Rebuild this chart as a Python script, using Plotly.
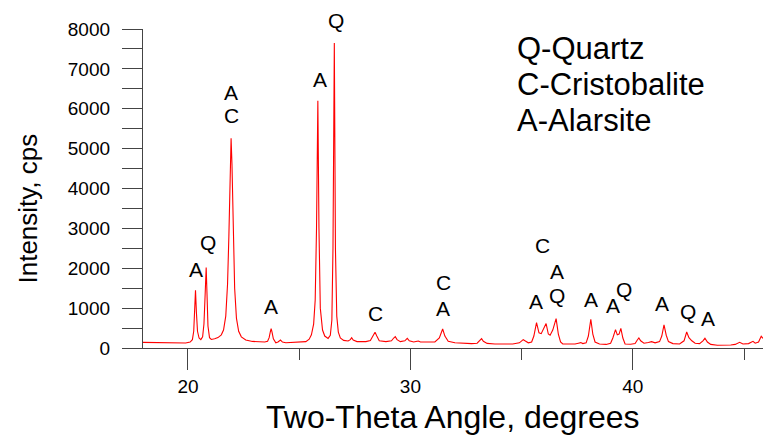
import plotly.graph_objects as go

# Diffractogram points (two-theta in degrees, intensity in cps)
two_theta = [
    17.98, 18.3, 18.7, 19.0, 19.3, 19.6, 19.9, 20.1,
    20.2, 20.26, 20.3, 20.34, 20.38, 20.43, 20.5, 20.58,
    20.66, 20.72, 20.77, 20.82, 20.86, 20.9, 20.97, 21.05,
    21.2, 21.35, 21.5,
    21.6, 21.7, 21.78, 21.84, 21.9, 21.94, 21.98, 22.04, 22.1, 22.18, 22.28, 22.4, 22.6, 22.9, 23.2, 23.45,
    23.58, 23.65, 23.7, 23.74, 23.78, 23.84, 23.95, 24.05, 24.16, 24.25, 24.4, 24.7, 25.0, 25.3,
    25.45, 25.55, 25.65, 25.72, 25.78, 25.84, 25.89, 25.95, 26.05, 26.15, 26.3,
    26.4, 26.47, 26.52, 26.58, 26.63, 26.69, 26.76, 26.85, 27.0, 27.2, 27.3, 27.36, 27.43, 27.6,
    28.0, 28.2, 28.33, 28.41, 28.49, 28.6, 28.9, 29.15, 29.25, 29.32, 29.4, 29.55, 29.75, 29.86,
    29.95, 30.15, 30.3, 30.36, 30.45, 30.8, 31.1, 31.3, 31.45, 31.55, 31.7, 32.0, 32.4, 32.6,
    32.75, 33.0, 33.12, 33.2, 33.28, 33.45, 33.8, 34.2, 34.6, 34.9, 35.0, 35.07, 35.15, 35.3,
    35.45, 35.55, 35.67, 35.78, 35.88, 36.0, 36.1, 36.2, 36.28, 36.4, 36.55, 36.65, 36.75, 36.85,
    37.1, 37.4, 37.55, 37.66, 37.75, 37.9, 38.0, 38.11, 38.2, 38.3, 38.5, 38.8, 39.0, 39.1,
    39.22, 39.3, 39.38, 39.46, 39.55, 39.65, 39.9, 40.1, 40.2, 40.27, 40.35, 40.5, 40.7, 40.84,
    41.0, 41.2, 41.3, 41.4, 41.5, 41.6, 41.8, 42.1, 42.3, 42.42, 42.52, 42.65, 42.8, 43.0,
    43.15, 43.24, 43.35, 43.5, 43.8, 44.1, 44.4, 44.6, 44.8, 44.95, 45.2, 45.4, 45.5, 45.65,
    45.77, 45.85,
]
intensity = [
    140, 135, 130, 125, 120, 118, 125, 150,
    210, 420, 900, 1450, 900, 420, 250, 210,
    280, 600, 1300, 2020, 1300, 550, 260, 215,
    230, 260, 330,
    450, 800, 1600, 2800, 4600, 5260, 4600, 2800, 1500, 750, 420, 280, 200, 165, 150, 150,
    170, 260, 400, 486, 400, 230, 130, 150, 200, 150, 130, 135, 140, 160,
    220, 330, 600, 1200, 3000, 6200, 3000, 1000, 450, 300, 240,
    320, 700, 2500, 7650, 2500, 800, 400, 250, 190, 175, 210, 260, 200, 160,
    160, 190, 300, 395, 300, 180, 160, 180, 250, 285, 210, 160, 180, 243,
    180, 150, 170, 176, 150, 140, 150, 250, 477, 300, 170, 130, 115, 125,
    110, 120, 200, 236, 170, 115, 100, 95, 100, 130, 180, 210, 180, 130,
    150, 300, 637, 380, 360, 500, 612, 350, 320, 450, 737, 350, 150, 100,
    95, 100, 120, 135, 110, 130, 300, 720, 350, 150, 100, 90, 120, 250,
    461, 330, 350, 494, 250, 100, 95, 110, 200, 252, 180, 120, 140, 160,
    130, 160, 300, 578, 320, 160, 110, 100, 180, 402, 260, 180, 120, 110,
    180, 243, 150, 90, 70, 65, 75, 90, 143, 100, 110, 168, 120, 150,
    294, 240,
]

# Phase labels placed over the peaks
label_text = ["A", "Q", "A", "C", "A", "A", "Q", "C", "C", "A",
              "C", "A", "Q", "A", "A", "A", "Q", "A", "Q", "A"]
label_x = [20.36, 20.9, 21.94, 21.94, 23.75, 25.93, 26.65, 28.42, 31.48, 31.48,
           35.92, 36.57, 36.6, 35.64, 38.11, 39.1, 39.62, 41.33, 42.48, 43.38]
label_y = [1968, 2636, 6400, 5841, 1029, 6745, 8225, 863, 1632, 989,
           2578, 1925, 1323, 1155, 1215, 1072, 1466, 1114, 904, 738]

key_lines = ["Q-Quartz", "C-Cristobalite", "A-Alarsite"]

x_title = "Two-Theta Angle, degrees"
y_title = "Intensity, cps"

x_range = [17.98, 45.85]
y_range = [0, 8000]

FONT = "Liberation Sans, Arial, sans-serif"
AX = "#444444"

L, R, T, B = 142.7, 0, 29, 92.3
W, H = 763, 440
pw, ph = W - L - R, H - T - B

fig = go.Figure()
fig.add_trace(go.Scatter(
    x=two_theta, y=intensity, mode="lines",
    line=dict(color="#ff0000", width=1.1),
    hoverinfo="skip", showlegend=False,
))

for t, x, y in zip(label_text, label_x, label_y):
    fig.add_annotation(x=x, y=(y - y_range[0]) / (y_range[1] - y_range[0]),
                       xref="x", yref="y domain", text=t, showarrow=False,
                       font=dict(family=FONT, size=21, color="#000"),
                       xanchor="center", yanchor="middle")

for i, t in enumerate(key_lines):
    fig.add_annotation(x=(515 - L) / pw, y=1 - ((48 + i * 36) - T) / ph,
                       xref="x domain", yref="y domain",
                       text=t, showarrow=False, xanchor="left", yanchor="middle",
                       font=dict(family=FONT, size=31, color="#000"))

# axis titles
fig.add_annotation(x=0.5, y=1 - (417 - T) / ph, xref="x domain", yref="y domain",
                   text=x_title, showarrow=False, xanchor="center", yanchor="middle",
                   font=dict(family=FONT, size=32, color="#000"))
fig.add_annotation(x=(28 - L) / pw, y=1 - (208 - T) / ph, xref="x domain", yref="y domain",
                   text=y_title, showarrow=False, xanchor="center", yanchor="middle",
                   textangle=-90, font=dict(family=FONT, size=26, color="#000"))

fig.update_layout(
    width=W, height=H,
    margin=dict(l=L, r=R, t=T, b=B, pad=0),
    paper_bgcolor="white", plot_bgcolor="white",
    font=dict(family=FONT, color="#000"),
    showlegend=False,
)
fig.update_xaxes(
    range=x_range, showgrid=False, zeroline=False, automargin=False,
    showline=True, linecolor=AX, linewidth=1.3,
    ticks="outside", ticklen=21, tickwidth=1.3, tickcolor=AX,
    tick0=20, dtick=10,
    minor=dict(ticks="outside", ticklen=11, tickwidth=1.3, tickcolor=AX, dtick=5, tick0=20, showgrid=False),
    tickfont=dict(family=FONT, size=19, color="#000"),
)
fig.update_yaxes(
    range=y_range, showgrid=False, zeroline=False, automargin=False,
    showline=True, linecolor=AX, linewidth=1.3,
    ticks="outside", ticklen=20, tickwidth=1.3, tickcolor=AX,
    tick0=0, dtick=1000, ticklabelstandoff=8,
    minor=dict(ticks="outside", ticklen=20, tickwidth=1.3, tickcolor=AX, dtick=500, tick0=0, showgrid=False),
    tickfont=dict(family=FONT, size=19, color="#000"),
)

fig.write_html("out.html", config={"displayModeBar": False},
               post_script="document.body.style.margin='0px';document.body.style.overflow='hidden';")
